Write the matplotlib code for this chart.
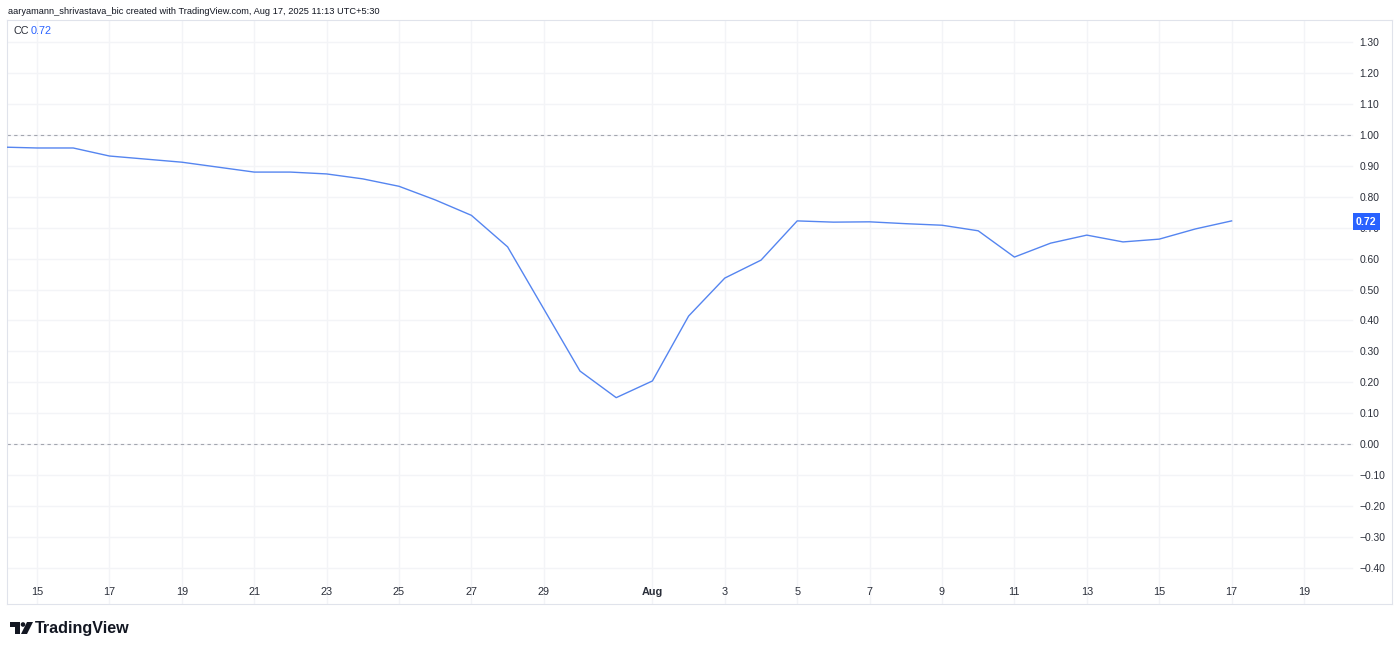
import matplotlib
matplotlib.use('Agg')
import matplotlib.pyplot as plt
import matplotlib.dates as mdates
from matplotlib.patches import Polygon, Circle
import numpy as np
import pandas as pd

plt.rcParams['font.family'] = ['Liberation Sans Narrow', 'Liberation Sans', 'DejaVu Sans']

################################################
# Data
################################################

dates = pd.date_range('2025-07-14', '2025-08-17', freq='D')
cc_values = [
    0.961, 0.958, 0.958, 0.932, 0.922, 0.912, 0.896, 0.880, 0.880, 0.874,
    0.858, 0.834, 0.790, 0.740, 0.638, 0.437, 0.236, 0.150,  # Jul 14 - Jul 31
    0.204, 0.414, 0.537, 0.595, 0.722, 0.718, 0.719, 0.713, 0.708, 0.690,
    0.605, 0.650, 0.676, 0.654, 0.663, 0.696, 0.722,          # Aug 1 - Aug 17
]
last_value = 0.72

tick_dates = pd.to_datetime(['2025-07-15', '2025-07-17', '2025-07-19', '2025-07-21',
                             '2025-07-23', '2025-07-25', '2025-07-27', '2025-07-29',
                             '2025-08-01', '2025-08-03', '2025-08-05', '2025-08-07',
                             '2025-08-09', '2025-08-11', '2025-08-13', '2025-08-15',
                             '2025-08-17', '2025-08-19'])
tick_labels = ['15', '17', '19', '21', '23', '25', '27', '29', 'Aug',
               '3', '5', '7', '9', '11', '13', '15', '17', '19']

y_ticks = [1.3, 1.2, 1.1, 1.0, 0.9, 0.8, 0.7, 0.6, 0.5, 0.4, 0.3, 0.2, 0.1,
           0.0, -0.1, -0.2, -0.3, -0.4]
ref_levels = [1.0, 0.0]

header = 'aaryamann_shrivastava_bic created with TradingView.com, Aug 17, 2025 11:13 UTC+5:30'

################################################
# Plot
################################################

W, H = 1400, 651
fig = plt.figure(figsize=(W / 100, H / 100), dpi=100)
fig.patch.set_facecolor('white')

def px(x0, y0, x1, y1):
    return [x0 / W, 1 - y1 / H, (x1 - x0) / W, (y1 - y0) / H]

ax = fig.add_axes(px(7, 20, 1392, 604))

grid_c = '#f3f4f7'
line_c = '#5585f0'
text_c = '#2a2e39'

x15 = mdates.date2num(pd.Timestamp('2025-07-15'))
day_px = 36.2
ax.set_xlim(x15 - 30 / day_px, x15 + (1392 - 37) / day_px)
y_per_px = 0.1 / 30.9
ax.set_ylim(-(604 - 444) * y_per_px, (444 - 20) * y_per_px)

# grid
grid_end = (1352 - 7) / (1392 - 7)
for t in tick_dates:
    ax.axvline(mdates.date2num(t), color=grid_c, lw=1, zorder=0)
for v in y_ticks:
    ax.axhline(v, xmin=0, xmax=grid_end, color=grid_c, lw=1, zorder=0)
for v in ref_levels:
    ax.axhline(v, xmin=0, xmax=grid_end, color='#a3a6af', lw=0.8,
               ls=(0, (3, 3)), zorder=1)

ax.plot(mdates.date2num(dates), cc_values, color=line_c, lw=1.0, zorder=3)

# ticks
ax.set_xticks(mdates.date2num(tick_dates))
ax.set_xticklabels(tick_labels)
ax.tick_params(axis='x', length=0, pad=-12.5, labelsize=7.8, labelcolor=text_c)
for lbl in ax.get_xticklabels():
    if lbl.get_text() == 'Aug':
        lbl.set_fontweight('bold')

ax.yaxis.tick_right()
ax.set_yticks(y_ticks)
ax.set_yticklabels([f'{v:.2f}'.replace('-', '\u2212') if v != 0 else '0.00' for v in y_ticks])
ax.tick_params(axis='y', length=0, pad=-23.5, labelsize=7.4, labelcolor=text_c)

for s in ax.spines.values():
    s.set_color('#e0e3eb')
    s.set_linewidth(0.8)

# last value tag
ax.text((1356 - 7) / (1392 - 7), last_value, f'{last_value:.2f}',
        transform=ax.get_yaxis_transform(), ha='left', va='center',
        fontsize=7.6, color='white', fontweight='bold', zorder=5,
        bbox=dict(boxstyle='square,pad=0.3', fc='#2962ff', ec='none'))

# legend
ax.text(6 / 1385, 1 - 11 / 584, 'CC', transform=ax.transAxes, ha='left',
        va='center', fontsize=7.8, color=text_c)
ax.text(24 / 1385, 1 - 11 / 584, f'{last_value:.2f}', transform=ax.transAxes,
        ha='left', va='center', fontsize=7.8, color='#2962ff')

# header
fig.text(8 / W, 1 - 11 / H, header, ha='left', va='center', fontsize=6.7, color='#131722')

# footer logo
logo = fig.add_axes([0, 0, 1, 1], zorder=-1)
logo.set_xlim(0, W)
logo.set_ylim(H, 0)
logo.axis('off')
logo.add_patch(Polygon([[10, 622], [20, 622], [20, 634], [15, 634], [15, 627], [10, 627]],
                       closed=True, fc='#131722', ec='none'))
logo.add_patch(Circle((23, 624.5), 2.3, fc='#131722', ec='none'))
logo.add_patch(Polygon([[27, 622], [33, 622], [27, 634], [21, 634]],
                       closed=True, fc='#131722', ec='none'))
fig.text(35 / W, 1 - 628 / H, 'TradingView', ha='left', va='center', fontsize=11.6,
         fontweight='bold', family=['Liberation Sans', 'DejaVu Sans'], color='#131722')

plt.savefig('out.png', dpi=100)
print('Saved to out.png')
